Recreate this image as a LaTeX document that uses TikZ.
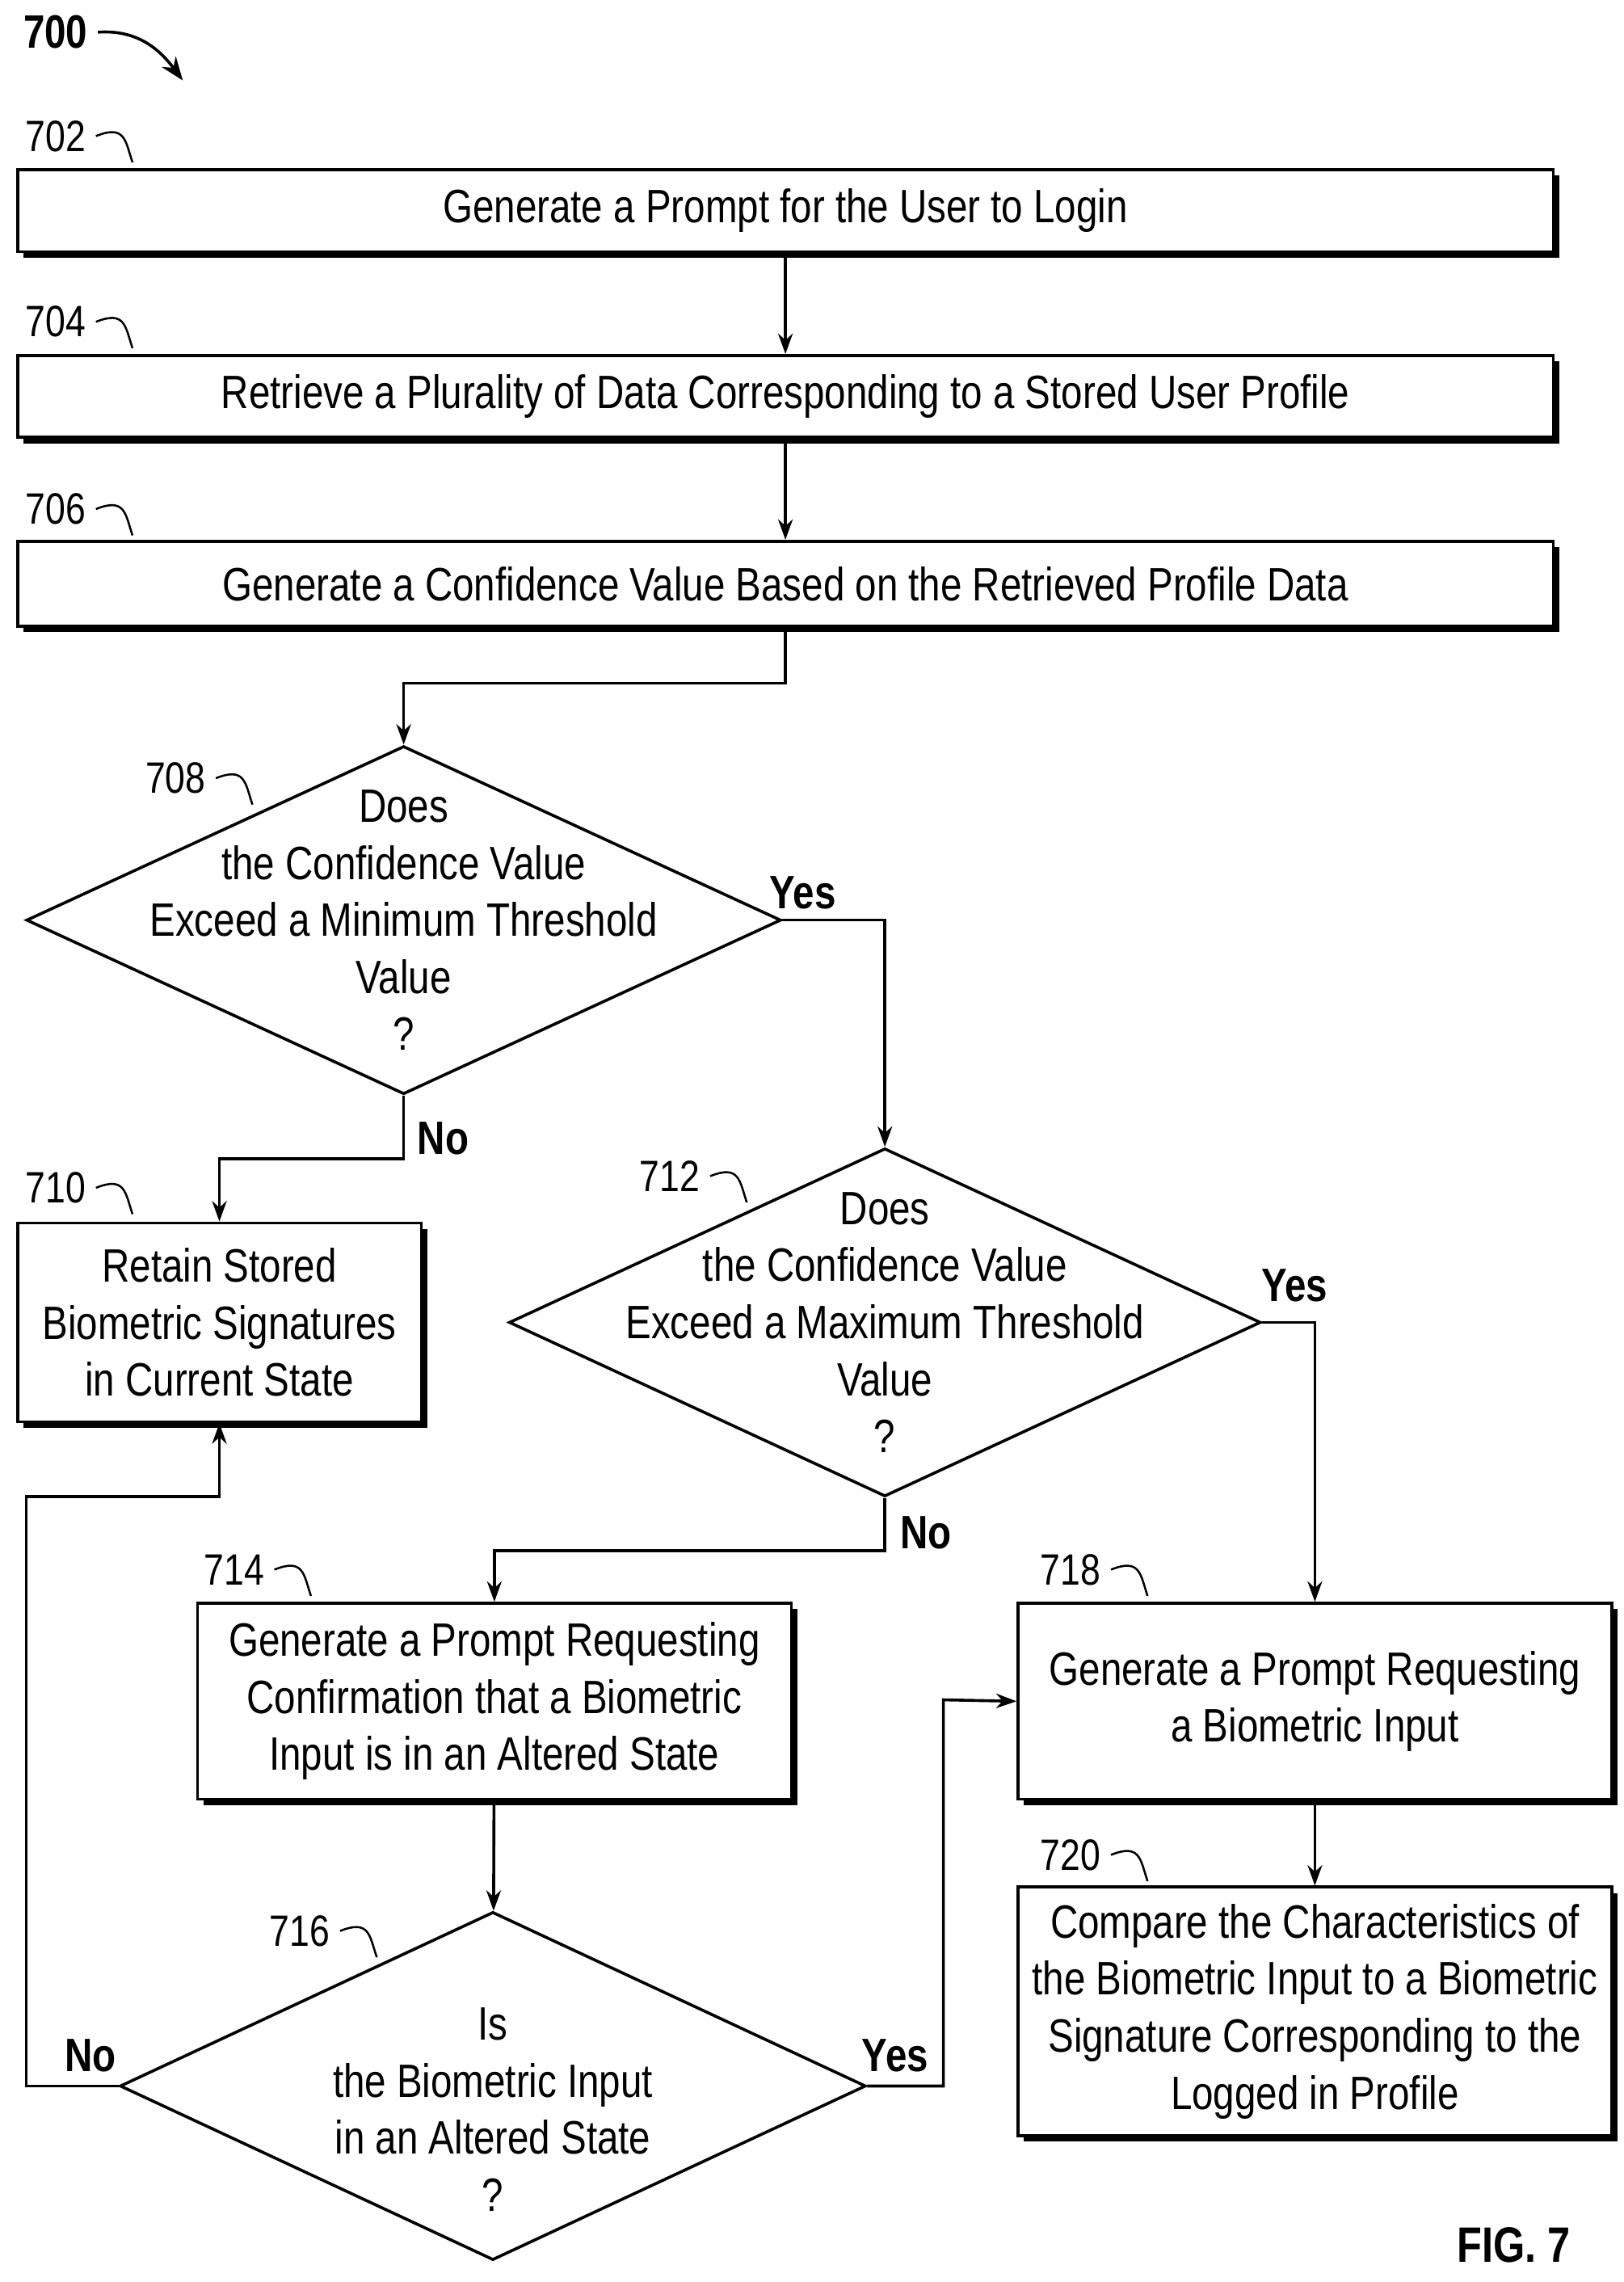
\documentclass[tikz,border=0pt]{standalone}
\usepackage{fontspec}
\setmainfont{Liberation Sans}[FakeStretch=0.82]
\usetikzlibrary{shapes.geometric,shadows,arrows.meta}
\tikzset{
  stepbox/.style={draw,line width=1pt,fill=white,align=center,inner sep=0pt,
    drop shadow={shadow xshift=2pt,shadow yshift=-2pt,opacity=1,fill=black}},
  decision/.style={draw,line width=1pt,shape=diamond,inner sep=0pt,fill=white},
  flow/.style={line width=1pt,-{Stealth[length=7pt,width=5pt]}},
  tag/.style={font=\fontsize{15}{15}\selectfont},
  answer/.style={font=\bfseries\fontsize{16}{16}\selectfont},
  hook/.style={line width=0.7pt}
}
\begin{document}
\begin{tikzpicture}[x=0.5pt,y=-0.5pt,font=\fontsize{16}{19.5}\selectfont]
\useasboundingbox (0,0) rectangle (1110,1560);

%Steps
\node[stepbox,minimum width=525pt,minimum height=28pt] (s702) at (537,144) {Generate a Prompt for the User to Login};
\node[stepbox,minimum width=525pt,minimum height=28pt] (s704) at (537,271) {Retrieve a Plurality of Data Corresponding to a Stored User Profile};
\node[stepbox,minimum width=525pt,minimum height=29pt] (s706) at (537,399) {Generate a Confidence Value Based on the Retrieved Profile Data};
\node[stepbox,minimum width=138pt,minimum height=68pt] (s710) at (150,904) {Retain Stored\\Biometric Signatures\\in Current State};
\node[stepbox,minimum width=203pt,minimum height=67pt] (s714) at (338,1163) {Generate a Prompt Requesting\\Confirmation that a Biometric\\Input is in an Altered State};
\node[stepbox,minimum width=203pt,minimum height=67pt] (s718) at (899,1163) {Generate a Prompt Requesting\\a Biometric Input};
\node[stepbox,minimum width=203pt,minimum height=85pt] (s720) at (899,1375) {Compare the Characteristics of\\the Biometric Input to a Biometric\\Signature Corresponding to the\\Logged in Profile};

%Decisions
\node[decision,minimum width=258pt,minimum height=119pt] (d708) at (276,629) {};
\node[align=center] at (d708) {Does\\the Confidence Value\\Exceed a Minimum Threshold\\Value\\?};
\node[decision,minimum width=257pt,minimum height=119pt] (d712) at (605,904) {};
\node[align=center] at (d712) {Does\\the Confidence Value\\Exceed a Maximum Threshold\\Value\\?};
\node[decision,minimum width=255pt,minimum height=119pt] (d716) at (337,1426) {};
\node[align=center] at ([yshift=-8pt]d716) {Is\\the Biometric Input\\in an Altered State\\?};

%Connectors
\draw[flow] (s702) -- (s704);
\draw[flow] (s704) -- (s706);
\draw[flow] (s706.south) |- (407,467) -| (d708.north);
\draw[flow] (d708.east) -| (d712.north) node[answer,pos=0.1,above] {Yes};
\draw[flow] (d708.south) |- (213,792) -| (s710.north);
\draw[flow] (d712.east) -| (s718.north);
\draw[flow] (d712.south) |- (471,1060) -| (s714.north);
\draw[flow] (s714) -- (d716);
\draw[flow] (d716.west) -| (18,1023) -| (s710.south);
\draw[flow] (d716.east) -| (645,1162) -- (s718.west);
\draw[flow] (s718) -- (s720);

%Answers
\node[answer] (a708n) at (303,778) {No};
\node[answer] (a712y) at (885,879) {Yes};
\node[answer] (a712n) at (633,1048) {No};
\node[answer] (a716n) at (62,1405) {No};
\node[answer] (a716y) at (612,1405) {Yes};

%Reference numerals
\node[tag,font=\bfseries\fontsize{16}{16}\selectfont] (n700) at (38,22) {700};
\draw[line width=1pt,-{Stealth[length=8pt,width=6pt]}] (n700.east) .. controls (95,20) and (110,35) .. (125,55);
\foreach \num/\px/\py in {702/38/93,704/38/220,706/38/348,710/38/812,708/120/532,712/458/804,714/160/1073,718/732/1073,720/732/1268,716/205/1320}{
  \node[tag] (n\num) at (\px,\py) {\num};
  \draw[hook] (n\num.east) .. controls ++(20,-8) and ++(-5,-15) .. ++(25,18);
}
\node[font=\bfseries\fontsize{17}{17}\selectfont] (fig) at (1035,1535) {FIG. 7};
\end{tikzpicture}
\end{document}
